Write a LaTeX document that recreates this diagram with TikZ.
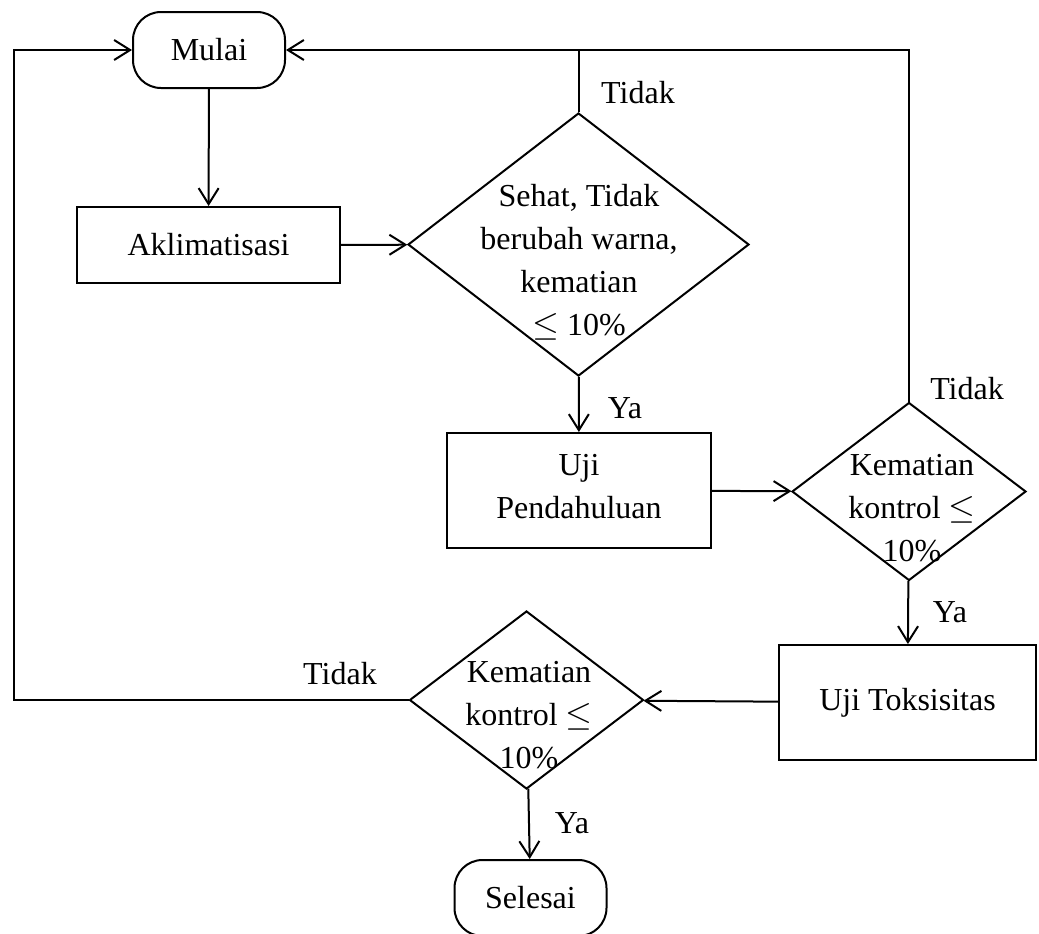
\documentclass[tikz,border=0pt]{standalone}
\usepackage{fontspec}
\setmainfont{Liberation Serif}
\usepackage{amssymb}
\usetikzlibrary{shapes.geometric, arrows.meta}

\tikzset{
    terminal/.style={draw, line width=1pt, rounded corners=14pt, minimum width=76pt, minimum height=38pt},
    proses/.style={draw, line width=1pt, inner sep=0pt},
    keputusan/.style={draw, line width=1pt, diamond, inner sep=0pt},
    isi/.style={align=center},
    panah/.style={line width=1pt, -{Straight Barb[length=8pt, width=10pt, line width=1pt]}},
    garis/.style={line width=1pt}
}

\begin{document}
\begin{tikzpicture}[x=0.5pt, y=-0.5pt, font=\fontsize{16}{21.5}\selectfont]
            \useasboundingbox (0,0) rectangle (1039,933);
            % bentuk
            \node[terminal] (mulai) at (209,50) {Mulai};
            \node[proses, minimum width=131.5pt, minimum height=38pt] (aklim) at (208.5,245) {Aklimatisasi};
            \node[keputusan, minimum width=170.5pt, minimum height=131.5pt] (d1) at (578.5,244.5) {};
            \node[isi] (t1) at (579,262) {Sehat, Tidak\\berubah warna,\\kematian\\$\leq$ 10\%};
            \node[proses, minimum width=132pt, minimum height=57.5pt] (uji1) at (579,490.5) {};
            \node[isi] (t2) at (579,487) {Uji\\Pendahuluan};
            \node[keputusan, minimum width=117pt, minimum height=89pt] (d2) at (909,491.5) {};
            \node[isi] (t3) at (912,508) {Kematian\\kontrol $\leq$\\10\%};
            \node[proses, minimum width=128.5pt, minimum height=57.5pt] (uji2) at (907.5,702.5) {Uji Toksisitas};
            \node[keputusan, minimum width=117pt, minimum height=89pt] (d3) at (526.5,700) {};
            \node[isi] (t4) at (529,715) {Kematian\\kontrol $\leq$\\10\%};
            \node[terminal] (selesai) at (530.5,898) {Selesai};
            \coordinate (balik) at (14,700);
            % label
            \node (tidak1) at (638,93) {Tidak};
            \node (ya1) at (625,408) {Ya};
            \node (tidak2) at (967,389) {Tidak};
            \node (ya2) at (950,612) {Ya};
            \node (tidak3) at (340,674) {Tidak};
            \node (ya3) at (572,823) {Ya};
            % panah
            \draw[panah] (mulai) -- (aklim);
            \draw[panah] (aklim) -- (d1);
            \draw[panah] (d1) -- (uji1);
            \draw[panah] (uji1) -- (d2);
            \draw[panah] (d2) -- (uji2);
            \draw[panah] (uji2) -- (d3);
            \draw[panah] (d3) -- (selesai);
            \draw[panah] (d2.north) |- (mulai.east);
            \draw[garis] (d1.north) -- (d1.north |- mulai.east);
            \draw[panah] (d3.west) -- (balik) |- (mulai.west);
        \end{tikzpicture}
\end{document}
